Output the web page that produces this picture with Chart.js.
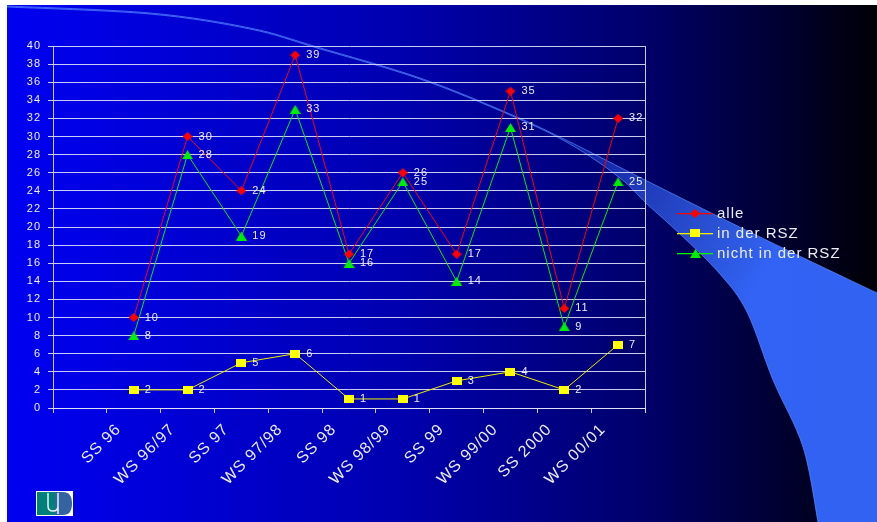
<!DOCTYPE html>
<html>
<head>
<meta charset="utf-8">
<style>
  html, body { margin: 0; padding: 0; background: #ffffff; overflow: hidden; }
  #wrap { position: absolute; left: 0; top: 0; width: 877px; height: 522px; }
</style>
<script src="https://cdn.jsdelivr.net/npm/chart.js@4.4.1/dist/chart.umd.min.js"></script>
</head>
<body>
<div id="wrap"><canvas id="c" width="877" height="522"></canvas></div>
<script>
// Semester labels and participant counts
const semesters = ['SS 96', 'WS 96/97', 'SS 97', 'WS 97/98', 'SS 98', 'WS 98/99', 'SS 99', 'WS 99/00', 'SS 2000', 'WS 00/01'];
const alle = [10, 30, 24, 39, 17, 26, 17, 35, 11, 32];
const inDerRSZ = [2, 2, 5, 6, 1, 1, 3, 4, 2, 7];
const nichtInDerRSZ = [8, 28, 19, 33, 16, 25, 14, 31, 9, 25];
const seriesNames = ['alle', 'in der RSZ', 'nicht in der RSZ'];
const seriesColors = ['#ff0000', '#eeee00', '#00ee00'];
const yMin = 0, yMax = 40, yStep = 2;

const FONT = '"Liberation Sans", Arial, sans-serif';
const TEXT = '#eeeef6';
const GRID = 'rgba(225,225,250,0.9)';

// Axis starts with one empty category slot before the first semester
const axisLabels = [''].concat(semesters);
const pad = arr => [null].concat(arr);

// Marker images
function marker(kind, color) {
  const c = document.createElement('canvas');
  if (kind === 'diamond') { c.width = 10; c.height = 9; }
  else if (kind === 'rect') { c.width = 10; c.height = 8; }
  else { c.width = 11; c.height = 9; }
  const g = c.getContext('2d');
  g.fillStyle = color;
  if (kind === 'diamond') {
    g.beginPath(); g.moveTo(5, 0); g.lineTo(10, 4.5); g.lineTo(5, 9); g.lineTo(0, 4.5); g.closePath(); g.fill();
  } else if (kind === 'rect') {
    g.fillRect(0, 0, 10, 8);
  } else {
    g.beginPath(); g.moveTo(5.5, 0); g.lineTo(11, 9); g.lineTo(0, 9); g.closePath(); g.fill();
  }
  return c;
}
const mkAlle = marker('diamond', '#ff0000');
const mkIn = marker('rect', '#ffff00');
const mkNicht = marker('tri', '#00ee00');

// Smooth curve through points (Catmull-Rom -> Bezier)
function curveThrough(ctx, pts, moveFirst) {
  if (moveFirst) ctx.moveTo(pts[0][0], pts[0][1]); else ctx.lineTo(pts[0][0], pts[0][1]);
  for (let i = 0; i < pts.length - 1; i++) {
    const p0 = pts[Math.max(0, i - 1)], p1 = pts[i], p2 = pts[i + 1], p3 = pts[Math.min(pts.length - 1, i + 2)];
    const c1x = p1[0] + (p2[0] - p0[0]) / 6, c1y = p1[1] + (p2[1] - p0[1]) / 6;
    const c2x = p2[0] - (p3[0] - p1[0]) / 6, c2y = p2[1] - (p3[1] - p1[1]) / 6;
    ctx.bezierCurveTo(c1x, c1y, c2x, c2y, p2[0], p2[1]);
  }
}

const backdrop = {
  id: 'backdrop',
  beforeDraw(chart) {
    const ctx = chart.ctx;
    const W = chart.width, H = chart.height;
    ctx.save();
    ctx.fillStyle = '#ffffff';
    ctx.fillRect(0, 0, W, H);
    const g = ctx.createLinearGradient(7, 0, W, 0);
    g.addColorStop(0, 'rgb(0,0,242)');
    g.addColorStop(0.45, 'rgb(0,0,175)');
    g.addColorStop(0.72, 'rgb(0,0,110)');
    g.addColorStop(0.9, 'rgb(0,0,45)');
    g.addColorStop(1, 'rgb(0,0,5)');
    ctx.fillStyle = g;
    ctx.fillRect(7, 5, W - 7, H - 5);

    // sweeping band
    const upper = [[7, 6], [150, 13], [250, 28], [317, 47], [420, 78], [510, 114], [570, 142], [647, 181], [760, 237], [877, 293]];
    const lower = [[818, 522], [803, 447], [773, 380], [747, 312], [720, 274], [680, 234], [647, 204], [620, 178], [570, 144], [510, 115], [420, 79], [317, 48], [250, 29], [150, 14], [7, 7]];
    ctx.beginPath();
    curveThrough(ctx, upper, true);
    ctx.lineTo(W, H);
    curveThrough(ctx, lower, false);
    ctx.closePath();
    const bg = ctx.createLinearGradient(540, 130, 770, 260);
    bg.addColorStop(0, 'rgba(60,110,255,0.15)');
    bg.addColorStop(0.5, 'rgba(55,105,250,0.6)');
    bg.addColorStop(1, 'rgba(51,102,250,0.97)');
    ctx.fillStyle = bg;
    ctx.fill();
    ctx.lineWidth = 1;
    ctx.strokeStyle = 'rgba(90,140,255,0.7)';
    ctx.beginPath(); curveThrough(ctx, upper, true); ctx.stroke();
    ctx.beginPath(); curveThrough(ctx, lower, true); ctx.stroke();

    // small emblem, bottom left
    ctx.fillStyle = '#ffffff';
    ctx.fillRect(36, 491, 37, 25);
    ctx.fillStyle = 'rgb(0,128,122)';
    ctx.fillRect(37, 492, 20, 23);
    ctx.fillStyle = 'rgb(52,100,160)';
    ctx.beginPath();
    ctx.moveTo(55, 492); ctx.lineTo(63, 492);
    ctx.quadraticCurveTo(72, 492, 72, 503.5);
    ctx.quadraticCurveTo(72, 515, 63, 515);
    ctx.lineTo(55, 515); ctx.closePath(); ctx.fill();
    ctx.strokeStyle = '#e8f4f4'; ctx.lineWidth = 1.5;
    ctx.beginPath();
    ctx.moveTo(48, 493); ctx.lineTo(48, 506);
    ctx.quadraticCurveTo(48, 511, 53, 511);
    ctx.quadraticCurveTo(58, 511, 58, 506);
    ctx.lineTo(58, 493);
    ctx.moveTo(58, 506); ctx.lineTo(58, 514);
    ctx.stroke();
    ctx.restore();
    ctx.letterSpacing = '1px';
  },
  beforeDatasetsDraw(chart) {
    const ctx = chart.ctx, a = chart.chartArea;
    ctx.save();
    ctx.strokeStyle = GRID; ctx.lineWidth = 1;
    ctx.beginPath();
    ctx.moveTo(Math.round(a.right) + 0.5, a.top); ctx.lineTo(Math.round(a.right) + 0.5, a.bottom + 5);
    ctx.stroke();
    ctx.restore();
  },
  afterDatasetsDraw(chart) {
    const ctx = chart.ctx;
    ctx.save();
    ctx.letterSpacing = '1px';
    ctx.font = '11px ' + FONT;
    ctx.fillStyle = TEXT;
    ctx.textAlign = 'left';
    ctx.textBaseline = 'middle';
    chart.data.datasets.forEach((ds, i) => {
      const meta = chart.getDatasetMeta(i);
      meta.data.forEach((pt, j) => {
        const v = ds.data[j];
        if (v === null || v === undefined) return;
        ctx.fillText(String(v), pt.x + 11, pt.y);
      });
    });
    // series key
    const rows = [213, 233, 253];
    chart.data.datasets.forEach((ds, i) => {
      const y = rows[i];
      ctx.fillStyle = seriesColors[i];
      ctx.fillRect(677, y, 36, 1.3);
      const img = ds.pointStyle;
      ctx.drawImage(img, Math.round(695 - img.width / 2), Math.round(y - img.height / 2));
      ctx.font = '15px ' + FONT;
      ctx.fillStyle = TEXT;
      ctx.fillText(ds.label, 717, y + 1);
    });
    ctx.restore();
  }
};

new Chart(document.getElementById('c'), {
  type: 'line',
  data: {
    labels: axisLabels,
    datasets: [
      { label: seriesNames[0], data: pad(alle), borderColor: seriesColors[0], backgroundColor: '#ff0000', pointStyle: mkAlle, borderWidth: 1 },
      { label: seriesNames[1], data: pad(inDerRSZ), borderColor: seriesColors[1], backgroundColor: '#ffff00', pointStyle: mkIn, borderWidth: 1 },
      { label: seriesNames[2], data: pad(nichtInDerRSZ), borderColor: seriesColors[2], backgroundColor: '#00ee00', pointStyle: mkNicht, borderWidth: 1 }
    ]
  },
  options: {
    responsive: false,
    animation: false,
    devicePixelRatio: 1,
    events: [],
    layout: { padding: { left: 0, top: 46, right: 232, bottom: 0 } },
    elements: { line: { tension: 0, fill: false } },
    plugins: { legend: { display: false }, tooltip: { enabled: false } },
    scales: {
      x: {
        type: 'category',
        offset: true,
        grid: { offset: true, drawOnChartArea: false, drawTicks: true, tickLength: 5, color: GRID, lineWidth: 1 },
        border: { color: GRID, width: 1 },
        ticks: {
          color: TEXT, font: { family: FONT, size: 16 },
          minRotation: 45, maxRotation: 45, autoSkip: false,
          labelOffset: -15, padding: 7
        },
        afterFit(s) { s.height = 522 - 408; }
      },
      y: {
        min: yMin, max: yMax,
        ticks: { stepSize: yStep, color: TEXT, font: { family: FONT, size: 11 }, padding: 7 },
        grid: { color: GRID, lineWidth: 1, tickLength: 5 },
        border: { color: GRID, width: 1 },
        afterFit(s) { s.width = 53; }
      }
    }
  },
  plugins: [backdrop]
});
</script>
</body>
</html>
